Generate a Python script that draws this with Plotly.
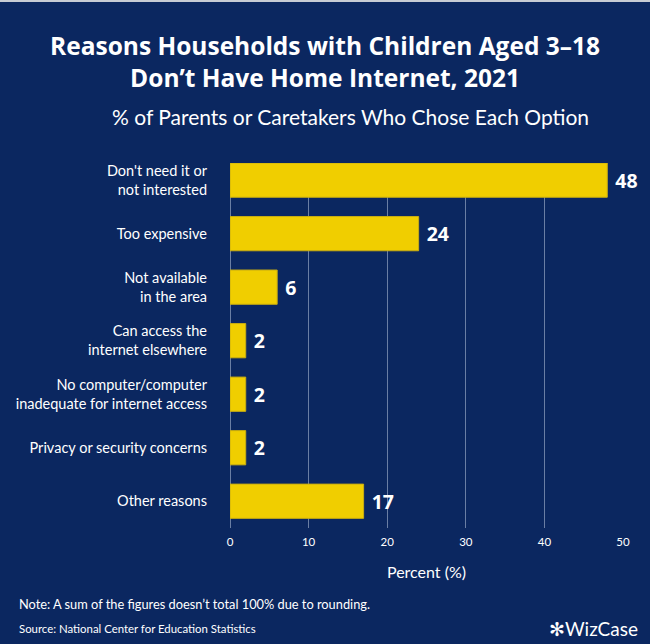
import plotly.graph_objects as go

categories = [
    "Don't need it or<br>not interested",
    "Too expensive",
    "Not available<br>in the area",
    "Can access the<br>internet elsewhere",
    "No computer/computer<br>inadequate for internet access",
    "Privacy or security concerns",
    "Other reasons",
]
values = [48, 24, 6, 2, 2, 2, 17]
x_ticks = [0, 10, 20, 30, 40, 50]

BG = "#0B2760"
BAR = "#F0CE00"
FONT = "Lato"
TFONT = "Open Sans"

fig = go.Figure(
    go.Bar(
        y=categories,
        x=values,
        orientation="h",
        width=0.64,
        marker=dict(color=BAR, line=dict(color="#C9AD10", width=1)),
        texttemplate=" %{x}",
        textposition="outside",
        textfont=dict(family=TFONT, size=19.5, color="white", weight="bold"),
        cliponaxis=False,
        hoverinfo="skip",
    )
)

plot_top, plot_bottom = 163, 644 - 116
plot_left, plot_right = 230, 650 - 27
ph = plot_bottom - plot_top
pw = plot_right - plot_left


def py(pix):
    return (plot_bottom - pix) / ph


def px(pix):
    return (pix - plot_left) / pw


fig.update_layout(
    width=650,
    height=644,
    paper_bgcolor=BG,
    plot_bgcolor=BG,
    margin=dict(l=plot_left, r=650 - plot_right, t=plot_top, b=644 - plot_bottom),
    showlegend=False,
    font=dict(family=FONT, color="white"),
    xaxis=dict(
        range=[0, 50],
        tickvals=x_ticks,
        showgrid=True,
        gridcolor="rgba(170,185,210,0.6)",
        gridwidth=1,
        zeroline=True,
        zerolinecolor="rgba(170,185,210,0.6)",
        zerolinewidth=1,
        showline=False,
        ticks="",
        ticklabelstandoff=5,
        tickfont=dict(size=11.5, color="white"),
        title=dict(text="Percent (%)", font=dict(size=16, color="white"), standoff=20),
    ),
    yaxis=dict(
        categoryorder="array",
        categoryarray=categories,
        range=[6.5, -0.32],
        showgrid=False,
        zeroline=False,
        ticks="",
        ticklabelstandoff=22,
        tickfont=dict(size=14.5, color="white"),
    ),
    annotations=[
        dict(
            text="<b>Reasons Households with Children Aged 3–18<br>Don’t Have Home Internet, 2021</b>",
            xref="paper", yref="paper", x=px(325), xanchor="center",
            y=py(27), yanchor="top", showarrow=False,
            font=dict(size=24.5, color="white", family=TFONT),
        ),
        dict(
            text="% of Parents or Caretakers Who Chose Each Option",
            xref="paper", yref="paper", x=px(350), xanchor="center",
            y=py(116), yanchor="middle", showarrow=False,
            font=dict(size=21, color="white", family=FONT),
        ),
        dict(
            text="Note: A sum of the figures doesn’t total 100% due to rounding.",
            xref="paper", yref="paper", x=px(17), xanchor="left",
            y=py(604), yanchor="middle", showarrow=False,
            font=dict(size=12.8, color="white", family=FONT),
        ),
        dict(
            text="Source: National Center for Education Statistics",
            xref="paper", yref="paper", x=px(17), xanchor="left",
            y=py(628), yanchor="middle", showarrow=False,
            font=dict(size=11.4, color="white", family=FONT),
        ),
        dict(
            text="✻WizCase",
            xref="paper", yref="paper", x=px(640), xanchor="right",
            y=py(628), yanchor="middle", showarrow=False,
            font=dict(size=19, color="white", family=FONT),
        ),
    ],
    shapes=[
        dict(type="rect", xref="paper", yref="paper", x0=px(0), x1=px(650),
             y0=py(2), y1=py(0), line=dict(width=0), fillcolor="#C8CCD4",
             layer="above"),
    ],
)

fig.write_html(
    "out.html",
    config={"displayModeBar": False},
    post_script="document.body.style.margin='0';document.body.style.overflow='hidden';",
)
